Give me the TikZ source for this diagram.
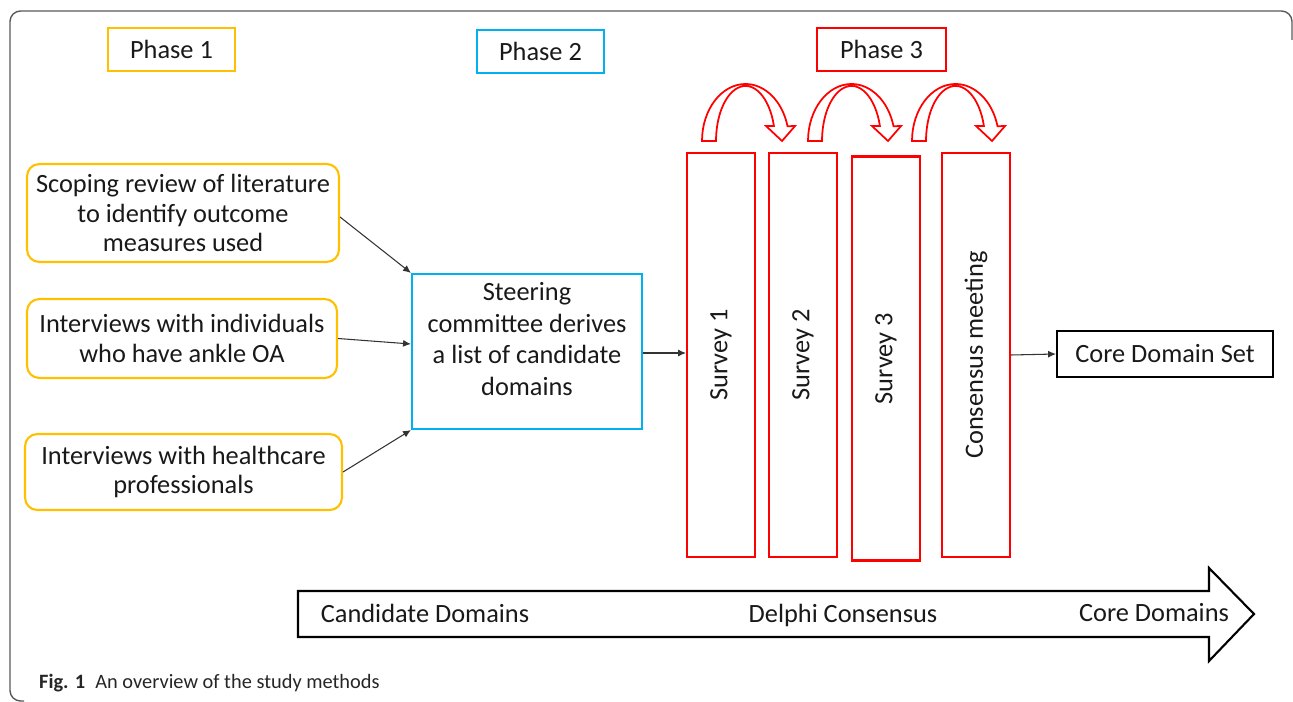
\documentclass[tikz,border=0pt]{standalone}
\usepackage{fontspec}
\setmainfont{Carlito}
\usetikzlibrary{arrows.meta, positioning, calc}
\definecolor{phyel}{HTML}{FFC000}
\definecolor{phblu}{HTML}{00B0F0}
\definecolor{phred}{HTML}{FF0000}
\tikzset{
  txt/.style={font=\fontsize{15}{18}\selectfont, text=black!90},
  phase/.style={
    txt, draw, line width=1.2pt,
    minimum width=2.54cm, minimum height=0.86cm
  },
  src/.style={
    txt, draw=phyel, line width=1.2pt, rounded corners=7pt,
    minimum width=6.24cm, align=center, inner sep=0pt,
    font=\fontsize{15}{17}\selectfont
  },
  steer/.style={
    txt, draw=phblu, line width=1.2pt,
    minimum width=4.6cm, minimum height=3.1cm,
    align=center, inner sep=0pt, text depth=0.5cm
  },
  survey/.style={
    txt, draw=phred, line width=1.2pt,
    minimum width=1.36cm, minimum height=8.08cm, inner sep=0pt
  },
  outbox/.style={
    txt, draw, line width=1.2pt,
    minimum width=4.32cm, minimum height=0.92cm
  },
  sig/.style={-{Latex[length=4.5pt,width=4pt]}, line width=0.6pt, black!80},
  loopbend/.style={draw=phred, line width=1pt, fill=white},
  bigarrow/.style={draw, line width=1.2pt, fill=white},
  frame/.style={draw=black!65, line width=0.8pt, rounded corners=6pt},
  lbl/.style={txt}
}

\begin{document}
\begin{tikzpicture}[x=0.02cm, y=-0.02cm]
  \useasboundingbox (0,0) rectangle (1293,702);

  \draw[frame] (24,701) -- (10,701) -- (10,11) -- (1292,11) -- (1292,40);

  \node[phase, draw=phyel] (ph1) at (171.5,49.5) {Phase 1};
  \node[phase, draw=phblu] (ph2) at (540.5,51.5) {Phase 2};
  \node[phase, draw=phred, minimum width=2.58cm] (ph3) at (881.5,49.5) {Phase 3};

  \node[src, minimum height=1.96cm] (lit) at (183,213)
        {Scoping review of literature\\to identify outcome\\measures used};
  \node[src, minimum width=6.2cm, minimum height=1.58cm] (pat) at (182,338.5)
        {Interviews with individuals\\who have ankle OA};
  \node[src, minimum width=6.34cm, minimum height=1.52cm] (hcp) at (183.5,472)
        {Interviews with healthcare\\professionals};

  \node[steer] (sc) at (527,351.5)
        {Steering\\committee derives\\a list of candidate\\domains};

  \node[survey] (s1) at (721,355)   {\rotatebox{90}{Survey 1}};
  \node[survey] (s2) at (803,355)   {\rotatebox{90}{Survey 2}};
  \node[survey] (s3) at (886,358.5) {\rotatebox{90}{Survey 3}};
  \node[survey] (cm) at (976,355)   {\rotatebox{90}{Consensus meeting}};

  \node[outbox] (cds) at (1165,354) {Core Domain Set};

  \draw[sig] (lit.east |- 0,217) -- (sc.north west);
  \draw[sig] (pat.east) -- (sc.west |- 0,344);
  \draw[sig] (hcp.east) -- (sc.south west);
  \draw[sig] (sc.east |- 0,353) -- (s1.west |- 0,353);
  \draw[sig] (cm.east) -- (cds.west);

  \foreach \dx in {0,106,210} {
    \draw[loopbend, shift={(\dx,0)}]
      (702,141) arc[start angle=180, end angle=345, x radius=43.5, y radius=57]
      -- (795,126) -- (782,141) -- (766,126) -- (773.9,126)
      arc[start angle=344.2, end angle=180, x radius=29.5, y radius=55] -- cycle;
  }

  \draw[bigarrow] (298,591) -- (1209,591) -- (1209,568) -- (1254,614)
    -- (1209,661) -- (1209,637) -- (298,637) -- cycle;
  \node[lbl] (cand) at (425,613) {Candidate Domains};
  \node[lbl] (delphi) at (843,615) {Delphi Consensus};
  \node[lbl] (core) at (1154,613) {Core Domains};

  \node[anchor=west, font=\fontsize{11.6}{13}\selectfont, text=black!85] (cap) at (33,683)
        {\textbf{Fig. 1}\enspace An overview of the study methods};

\end{tikzpicture}
\end{document}
